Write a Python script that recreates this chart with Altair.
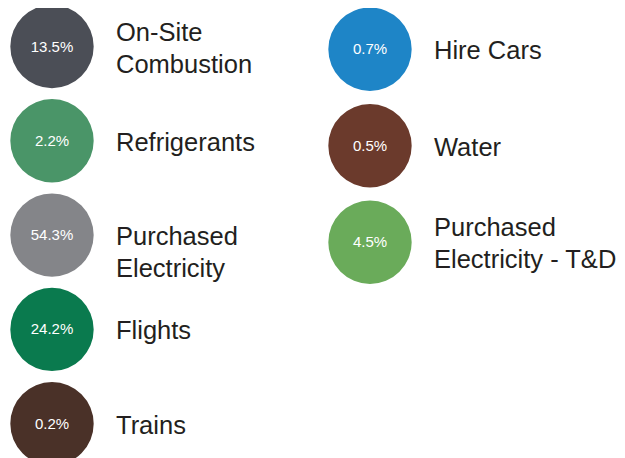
import altair as alt
import pandas as pd

names = ["On-Site\nCombustion", "Refrigerants", "Purchased\nElectricity", "Flights", "Trains",
         "Hire Cars", "Water", "Purchased\nElectricity - T&D"]
pcts = [13.5, 2.2, 54.3, 24.2, 0.2, 0.7, 0.5, 4.5]
colors = ["#4b4e56", "#4a9568", "#848589", "#0a7a4e", "#4a3128",
          "#1e85c7", "#6b3a2c", "#6aab5a"]
cols = [0, 0, 0, 0, 0, 1, 1, 1]
rows = [0, 1, 2, 3, 4, 0, 1, 2]
# labels whose two lines are centred on the circle (the others start at its centre)
centred_labels = ["On-Site\nCombustion", "Purchased\nElectricity - T&D"]

df = pd.DataFrame({"name": names, "pct": pcts, "color": colors, "col": cols, "row": rows})
df["pct_label"] = [f"{p:.1f}%" for p in pcts]

FONT = "Helvetica, Liberation Sans, Arial, sans-serif"
xscale = alt.Scale(domain=[0, 1], range=[44, 362])


def column_layers(c, yrange):
    ys = alt.Scale(domain=[0, 1], range=yrange)
    base = alt.Chart(df).transform_filter(alt.datum.col == c).encode(
        x=alt.X("col:Q", scale=xscale, axis=None),
        y=alt.Y("row:Q", scale=ys, axis=None),
    )
    circ = base.mark_point(shape="circle", filled=True, size=6950, opacity=1, strokeWidth=0).encode(
        color=alt.Color("color:N", scale=None)
    )
    pct = base.mark_text(color="white", fontSize=15, font=FONT, align="center", baseline="middle").encode(
        text="pct_label:N"
    )
    is_centred = alt.FieldOneOfPredicate(field="name", oneOf=centred_labels)
    lab_a = base.transform_filter(~is_centred).mark_text(
        color="#231f20", fontSize=25.5, font=FONT, align="left", baseline="middle",
        dx=64, dy=2, lineBreak="\n", lineHeight=32).encode(text="name:N")
    lab_b = base.transform_filter(is_centred).mark_text(
        color="#231f20", fontSize=25.5, font=FONT, align="left", baseline="middle",
        dx=64, dy=-14, lineBreak="\n", lineHeight=32).encode(text="name:N")
    return alt.layer(circ, pct, lab_a, lab_b).resolve_scale(y="shared")


left = column_layers(0, [38.5, 132.8])
right = column_layers(1, [41.2, 137.7])

chart = alt.layer(left, right).resolve_scale(y="independent").properties(
    width=609, height=450, padding=0, autosize="none"
).configure_view(stroke=None, clip=False)

chart.save("out.html", embed_options={"renderer": "svg", "actions": False})
